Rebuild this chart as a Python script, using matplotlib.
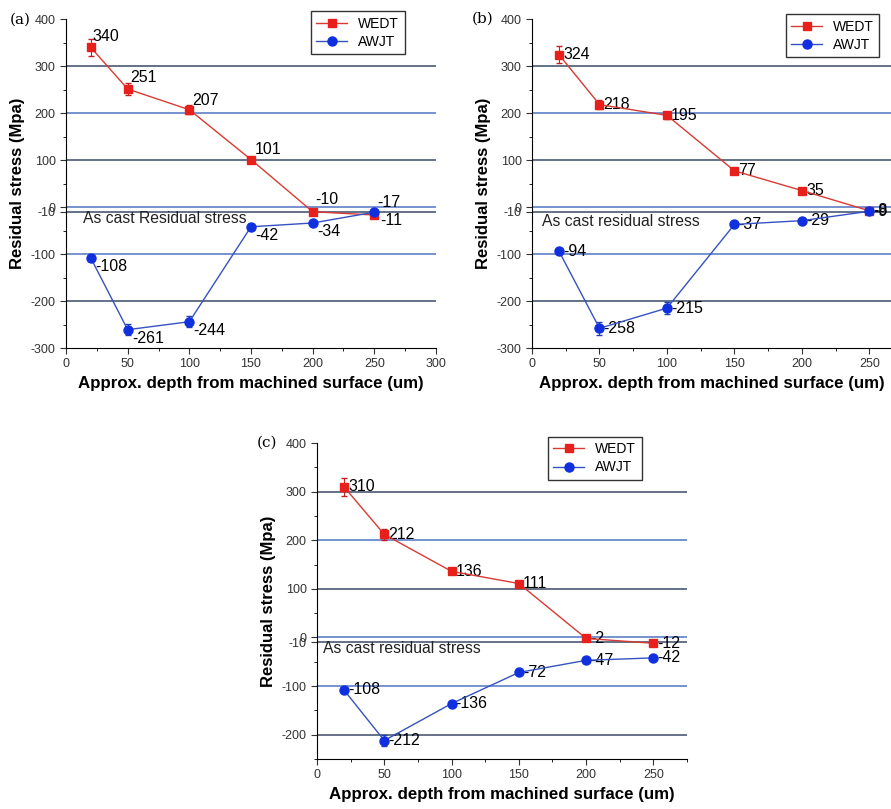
import matplotlib
matplotlib.use("Agg")
import matplotlib.pyplot as plt
from matplotlib.ticker import MultipleLocator

plt.rcParams['font.family'] = ['Liberation Sans', 'DejaVu Sans']
plt.rcParams['axes.unicode_minus'] = False

depth = [20, 50, 100, 150, 200, 250]

# panel (a)
wedt_a = [340, 251, 207, 101, -10, -17]
awjt_a = [-108, -261, -244, -42, -34, -11]
# panel (b)
wedt_b = [324, 218, 195, 77, 35, -8]
awjt_b = [-94, -258, -215, -37, -29, -9]
# panel (c)
wedt_c = [310, 212, 136, 111, -2, -12]
awjt_c = [-108, -212, -136, -72, -47, -42]

err_wedt_a = [18, 12, 10, 6, 5, 5]
err_awjt_a = [6, 12, 12, 6, 5, 5]
err_wedt_b = [18, 10, 8, 5, 4, 4]
err_awjt_b = [5, 14, 12, 5, 4, 4]
err_wedt_c = [18, 12, 6, 5, 4, 4]
err_awjt_c = [6, 12, 6, 5, 4, 4]

grid_levels = [300, 200, 100, 0, -10, -100, -200]
grid_colors = ['#3b4a66', '#4f74c4', '#3b4a66', '#4f74c4', '#3b4a66', '#4f74c4', '#3b4a66']
yticks = [400, 300, 200, 100, 0, -10, -100, -200, -300]

fig = plt.figure(figsize=(8.91, 8.09), dpi=100)

ax_a = fig.add_axes([0.0741, 0.5698, 0.4152, 0.4067])
ax_b = fig.add_axes([0.5971, 0.5698, 0.4029, 0.4067])
ax_c = fig.add_axes([0.3558, 0.0618, 0.4153, 0.3906])


def draw_panel(ax, wedt, awjt, ew, ea, xlim, ylim, cast_label, cast_pos, legend_pos):
    for g, c in zip(grid_levels, grid_colors):
        ax.axhline(g, color=c, lw=1.1, zorder=1)
    ax.errorbar(depth, wedt, yerr=ew, fmt='none', ecolor='#c02020',
                capsize=2, elinewidth=0.8, zorder=3)
    ax.errorbar(depth, awjt, yerr=ea, fmt='none', ecolor='#2040b0',
                capsize=2, elinewidth=0.8, zorder=3)
    ax.plot(depth, wedt, color='#d83a34', marker='s', mfc='#e8201c', mec='#e8201c',
            ms=6, lw=1, label='WEDT', zorder=4)
    ax.plot(depth, awjt, color='#3552c0', marker='o', mfc='#1030e0', mec='#1030e0',
            ms=6.5, lw=1, label='AWJT', zorder=4)
    ax.set_xlim(*xlim)
    ax.set_ylim(*ylim)
    ax.set_yticks(yticks)
    ax.xaxis.set_minor_locator(MultipleLocator(25))
    ax.yaxis.set_minor_locator(MultipleLocator(50))
    ax.tick_params(labelsize=9, colors='#333333', length=4)
    ax.tick_params(which='minor', length=2)
    for s in ['top', 'right']:
        ax.spines[s].set_visible(False)
    ax.set_ylim(*ylim)
    ax.set_xlabel('Approx. depth from machined surface (um)', fontsize=12.2, fontweight='bold')
    ax.set_ylabel('Residual stress (Mpa)', fontsize=12, fontweight='bold')
    ax.text(cast_pos[0], cast_pos[1], cast_label, fontsize=11.3, va='center', color='#222222')
    leg = ax.legend(loc='upper left', bbox_to_anchor=legend_pos, fontsize=10,
                    frameon=True, fancybox=False, edgecolor='black', handlelength=2.2,
                    borderpad=0.4, labelspacing=0.3, borderaxespad=0)
    leg.get_frame().set_linewidth(1.0)


draw_panel(ax_a, wedt_a, awjt_a, err_wedt_a, err_awjt_a, (0, 300), (-300, 400),
           'As cast Residual stress', (14, -25), (0.662, 1.024))
draw_panel(ax_b, wedt_b, awjt_b, err_wedt_b, err_awjt_b, (0, 266), (-300, 400),
           'As cast residual stress', (7.5, -30), (0.707, 1.015))
draw_panel(ax_c, wedt_c, awjt_c, err_wedt_c, err_awjt_c, (0, 275), (-250, 400),
           'As cast residual stress', (4.5, -23), (0.624, 1.02))
ax_a.set_xticks(range(0, 301, 50))
ax_b.set_xticks(range(0, 251, 50))
ax_c.set_xticks(range(0, 251, 50))

fig.text(10 / 891, 1 - 20 / 809, '(a)', fontsize=11, family='DejaVu Serif', va='center')
fig.text(472 / 891, 1 - 19 / 809, '(b)', fontsize=11, family='DejaVu Serif', va='center')
fig.text(257 / 891, 1 - 443 / 809, '(c)', fontsize=11, family='DejaVu Serif', va='center')

# value labels, panel (a): offset in points
offs_wa = [(1, 8), (2, 8), (2, 7), (3, 7), (2, 9), (2, 9)]
offs_aa = [(3, -6), (3, -6), (3, -6), (3, -6), (3, -6), (4, -6)]
for x, y, o in zip(depth, wedt_a, offs_wa):
    ax_a.annotate(str(y), (x, y), xytext=o, textcoords='offset points', fontsize=11.5,
                  va='center')
for x, y, o in zip(depth, awjt_a, offs_aa):
    ax_a.annotate(str(y), (x, y), xytext=o, textcoords='offset points', fontsize=11.5,
                  va='center')

# panels (b) and (c): labels to the right of each point
for ax, ws, aw in [(ax_b, wedt_b, awjt_b), (ax_c, wedt_c, awjt_c)]:
    for x, y in zip(depth, ws):
        ax.annotate(str(y), (x, y), xytext=(3, 0), textcoords='offset points',
                    fontsize=11.5, va='center')
    for x, y in zip(depth, aw):
        ax.annotate(str(y), (x, y), xytext=(3, 0), textcoords='offset points',
                    fontsize=11.5, va='center')

fig.savefig('out.png', dpi=100)
